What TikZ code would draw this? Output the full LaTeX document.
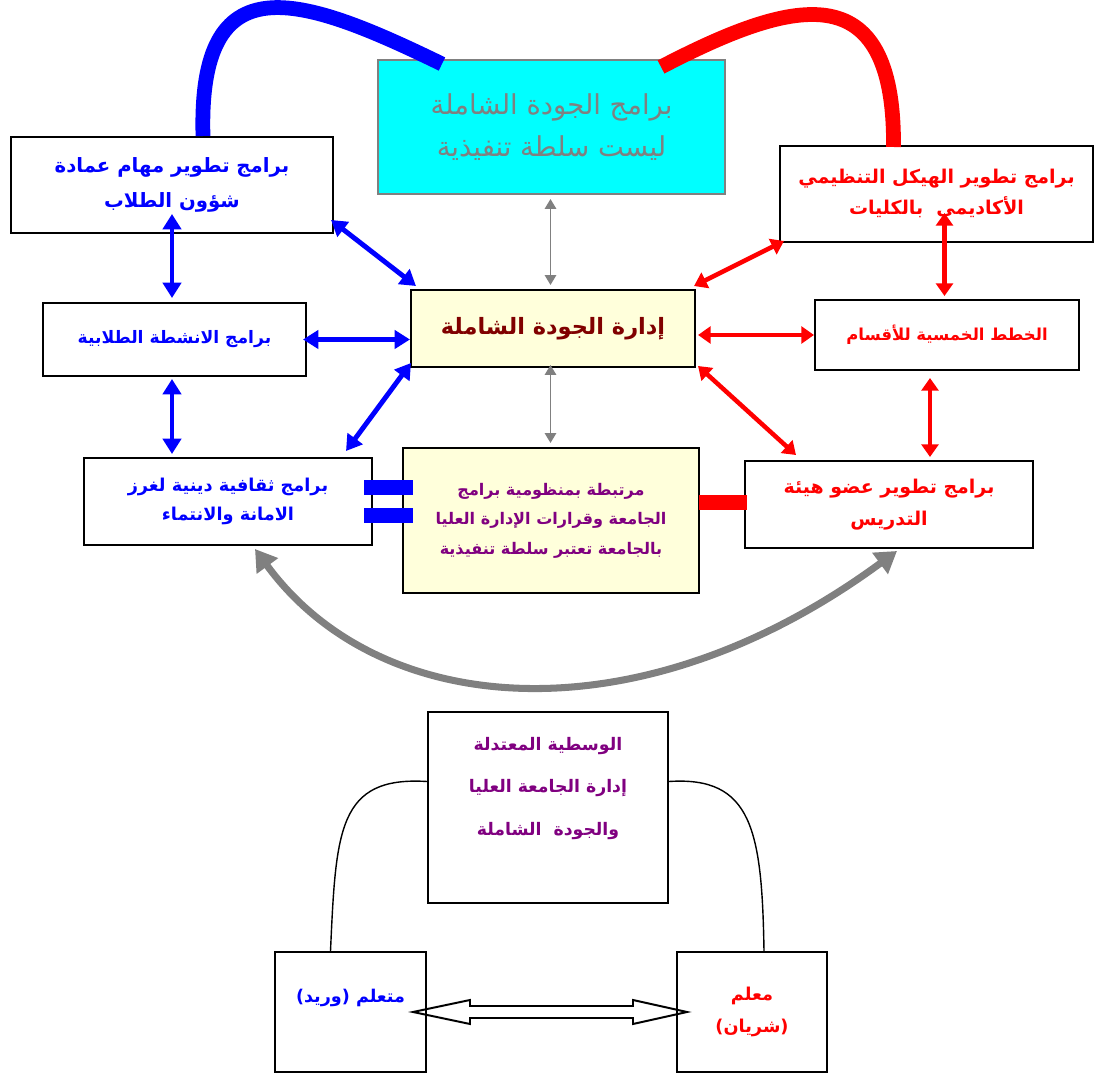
\documentclass[tikz,border=0pt]{standalone}
\usepackage{fontspec}
\usetikzlibrary{arrows.meta,calc}
\newfontfamily\arabicfont[Script=Arabic]{DejaVu Sans}
\TeXXeTstate=1
\newcommand{\artext}[1]{\beginR #1\endR}

\definecolor{paleyellow}{RGB}{255,255,219}
\definecolor{darkred}{RGB}{128,0,0}
\definecolor{purpletext}{RGB}{128,0,128}
\definecolor{greyline}{RGB}{128,128,128}
\definecolor{brightcyan}{RGB}{0,255,255}

\tikzstyle{box}      = [rectangle, draw, line width=1.4pt, text centered, align=center]
\tikzstyle{bluebox}  = [box, text=blue, font=\arabicfont\bfseries\fontsize{14}{25}\selectfont]
\tikzstyle{redbox}   = [box, text=red, font=\arabicfont\bfseries\fontsize{13.5}{22}\selectfont]
\tikzstyle{progbox}  = [box, draw=greyline, fill=brightcyan, text=greyline, font=\arabicfont\fontsize{19.5}{30}\selectfont]
\tikzstyle{qualbox}  = [box, fill=paleyellow, font=\arabicfont\bfseries\fontsize{11.4}{21}\selectfont]
\tikzstyle{bluearrow} = [line width=3.5pt, blue, {Triangle[length=11pt,width=13pt]}-{Triangle[length=11pt,width=13pt]}]
\tikzstyle{redarrow}  = [line width=3.2pt, red, {Triangle[length=9pt,width=12pt]}-{Triangle[length=9pt,width=12pt]}]
\tikzstyle{greyarrow} = [line width=1.4pt, greyline, {Triangle[length=7pt,width=8pt]}-{Triangle[length=7pt,width=8pt]}]
\tikzstyle{greycurve} = [line width=5pt, greyline, {Triangle[length=15pt,width=18pt]}-{Triangle[length=15pt,width=18pt]}]
\tikzstyle{bluecurve} = [line width=10.5pt, blue]
\tikzstyle{redcurve}  = [line width=10.5pt, red]
\tikzstyle{bluebar}   = [line width=10.5pt, blue]
\tikzstyle{redbar}    = [line width=10.5pt, red]
\tikzstyle{link}      = [line width=1pt, black]
\tikzstyle{hollow}    = [line width=1.4pt, black, line join=miter]

\begin{document}
\begin{tikzpicture}[x=0.025cm, y=-0.025cm]
\useasboundingbox (0,0) rectangle (1099,1075);

% upper chart
\node (deanship)   [bluebox, minimum width=8.05cm, minimum height=2.4cm] at (172,185) {\artext{برامج تطوير مهام عمادة}\\ \artext{شؤون الطلاب}};
\node (progs)      [progbox, minimum width=8.675cm, minimum height=3.35cm] at (551.5,127) {\artext{برامج الجودة الشاملة}\\ \artext{ليست سلطة تنفيذية}};
\node (structure)  [redbox, minimum width=7.825cm, minimum height=2.4cm] at (936.5,194) {\artext{برامج تطوير الهيكل التنظيمي}\\ \artext{الأكاديمي\ \ بالكليات}};
\node (activities) [bluebox, font=\arabicfont\bfseries\fontsize{12.2}{21}\selectfont, minimum width=6.575cm, minimum height=1.825cm] at (174.5,339.5) {\artext{برامج الانشطة الطلابية}};
\node (tqm)        [qualbox, text=darkred, font=\arabicfont\bfseries\fontsize{16}{21}\selectfont, minimum width=7.1cm, minimum height=1.925cm] at (553,328.5) {\artext{إدارة الجودة الشاملة}};
\node (plans)      [redbox, font=\arabicfont\bfseries\fontsize{11.7}{21}\selectfont, minimum width=6.6cm, minimum height=1.75cm] at (947,335) {\artext{الخطط الخمسية للأقسام}};
\node (culture)    [bluebox, font=\arabicfont\bfseries\fontsize{12.6}{21}\selectfont, minimum width=7.2cm, minimum height=2.175cm] at (228,501.5) {\artext{برامج ثقافية دينية لغرز}\\ \artext{الامانة والانتماء}};
\node (linked)     [qualbox, text=purpletext, minimum width=7.4cm, minimum height=3.625cm] at (551,520.5) {\artext{مرتبطة بمنظومية برامج}\\ \artext{الجامعة وقرارات الإدارة العليا}\\ \artext{بالجامعة تعتبر سلطة تنفيذية}};
\node (faculty)    [redbox, font=\arabicfont\bfseries\fontsize{13.5}{23}\selectfont, minimum width=7.2cm, minimum height=2.175cm] at (889,504.5) {\artext{برامج تطوير عضو هيئة}\\ \artext{التدريس}};

% lower chart
\node (moderate)   [box, text=purpletext, font=\arabicfont\bfseries\fontsize{12.3}{30}\selectfont, minimum width=6cm, minimum height=4.775cm] at (548,807.5) {\artext{الوسطية المعتدلة}\\ \artext{إدارة الجامعة العليا}\\ \artext{والجودة\ \ الشاملة}\\ \mbox{}};
\node (learner)    [bluebox, font=\arabicfont\bfseries\fontsize{12.5}{23}\selectfont, minimum width=3.775cm, minimum height=3cm] at (350.5,1012) {\artext{متعلم (وريد)}\\ \mbox{}};
\node (teacher)    [redbox, font=\arabicfont\bfseries\fontsize{12.6}{23}\selectfont, minimum width=3.75cm, minimum height=3cm] at (752,1012) {\artext{معلم}\\ \artext{(شريان)}};

\draw [bluecurve] ($(deanship.north)+(31,0)$) .. controls (198,-40) and (300,-5) .. ($(progs.north west)+(65,5)$);
\draw [redcurve] ($(progs.north east)+(-65,8)$) .. controls (790,0) and (895,-30) .. ($(structure.north)+(-43,2)$);

\draw [bluearrow] ($(deanship.south)+(0,-20)$) -- ($(deanship.south |- activities.north)+(0,-4)$);
\draw [bluearrow] ($(deanship.south east)+(-3,-14)$) -- ($(tqm.north west)+(6,-3)$);
\draw [bluearrow] ($(activities.east)+(-4,0)$) -- (activities.east -| tqm.west);
\draw [bluearrow] ($(deanship.south |- activities.south)+(0,2)$) -- ($(deanship.south |- culture.north)+(0,-3)$);
\draw [bluearrow] ($(culture.north east)+(-27,-6)$) -- ($(tqm.south west)+(1,-5)$);

\draw [greyarrow] ($(progs.south)+(-1,4)$) -- ($(progs.south |- tqm.north)+(-1,-4)$);
\draw [greyarrow] ($(progs.south |- tqm.south)+(-1,-3)$) -- ($(progs.south |- linked.north)+(-1,-4)$);

\draw [redarrow] ($(structure.south west)+(5,-2)$) -- ($(tqm.north east)+(-2,-3)$);
\draw [redarrow] ($(tqm.east |- plans.west)+(2,0)$) -- (plans.west);
\draw [redarrow] ($(structure.south)+(8,-30)$) -- ($(structure.south |- plans.north)+(8,-3)$);
\draw [redarrow] ($(tqm.south east)+(2,-2)$) -- ($(faculty.north west)+(52,-5)$);
\draw [redarrow] ($(plans.south)+(-17,7)$) -- ($(faculty.north)+(41,-3)$);

\draw [bluebar] ($(culture.east)+(-9,-14)$) -- ($(culture.east -| linked.west)+(11,-14)$);
\draw [bluebar] ($(culture.east)+(-9,14)$) -- ($(culture.east -| linked.west)+(11,14)$);
\draw [redbar] ($(linked.east |- faculty.west)+(-1,-2)$) -- ($(faculty.west)+(3,-2)$);

\draw [greycurve] ($(culture.south)+(27,3)$) .. controls (380,720) and (640,740) .. ($(faculty.south)+(8,2)$);

\draw [link] ($(moderate.west)+(0,-26)$) .. controls (338,776) and (336,830) .. ($(learner.north)+(-20,0)$);
\draw [link] ($(moderate.east)+(0,-26)$) .. controls (752,776) and (762,830) .. ($(teacher.north)+(12,0)$);

\coordinate (lefttip) at ($(learner.east)+(-14,0)$);
\coordinate (righttip) at ($(teacher.west)+(11,0)$);
\draw [hollow] (lefttip) -- ++(57,-12) -- ++(0,6) -- ($(righttip)+(-54,-6)$) -- ++(0,-6) -- (righttip) -- ++(-54,12) -- ++(0,-6) -- ($(lefttip)+(57,6)$) -- ++(0,6) -- cycle;
\end{tikzpicture}
\end{document}
